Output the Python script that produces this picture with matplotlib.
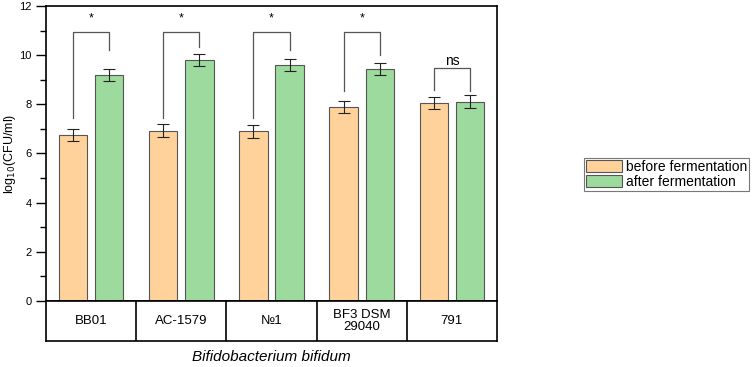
import matplotlib
matplotlib.use("Agg")
import matplotlib.pyplot as plt
import numpy as np
from matplotlib.ticker import MultipleLocator

plt.rcParams['font.family'] = ['Liberation Sans', 'DejaVu Sans']

categories = ["BB01", "AC-1579", "№1", "BF3 DSM\n29040", "791"]
before = [6.74, 6.93, 6.90, 7.88, 8.04]
after = [9.19, 9.79, 9.61, 9.43, 8.11]
before_err = [0.25, 0.25, 0.25, 0.25, 0.25]
after_err = [0.25, 0.25, 0.25, 0.25, 0.25]
sig_labels = ["*", "*", "*", "*", "ns"]
bracket_top = [10.93, 10.93, 10.93, 10.93, 9.46]
bracket_left = [7.44, 7.44, 7.44, 8.54, 8.58]
bracket_right = [10.2, 10.35, 10.2, 10.0, 8.56]
series_names = ["before fermentation", "after fermentation"]

c_before = "#FFD29C"
c_after = "#9DDA9D"
edge = "#555555"

fig = plt.figure(figsize=(7.56, 3.67), dpi=100)
ax = fig.add_axes([0.0608, 0.1798, 0.5966, 0.8039])
tax = fig.add_axes([0.0608, 0.0708, 0.5966, 0.1090], sharex=ax)

x = np.arange(len(categories))
off = 0.2
w = 0.315
b1 = ax.bar(x - off, before, w, color=c_before, edgecolor=edge, linewidth=0.8,
            label=series_names[0], zorder=2)
b2 = ax.bar(x + off, after, w, color=c_after, edgecolor=edge, linewidth=0.8,
            label=series_names[1], zorder=2)
ax.errorbar(x - off, before, yerr=before_err, fmt='none', ecolor='#222222',
            elinewidth=0.8, capsize=4, capthick=0.8, zorder=3)
ax.errorbar(x + off, after, yerr=after_err, fmt='none', ecolor='#222222',
            elinewidth=0.8, capsize=4, capthick=0.8, zorder=3)

for i in range(len(categories)):
    xl, xr = x[i] - off, x[i] + off
    ax.plot([xl, xl, xr, xr], [bracket_left[i], bracket_top[i], bracket_top[i], bracket_right[i]],
            color='#555555', linewidth=0.9, zorder=3)
    if sig_labels[i] == "*":
        ax.text(x[i], bracket_top[i] + 0.3, "*", ha='center', va='bottom', fontsize=9)
    else:
        ax.text(x[i], bracket_top[i] + 0.02, sig_labels[i], ha='center', va='bottom', fontsize=10)

ax.set_xlim(-0.5, len(categories) - 0.5)
ax.set_ylim(0, 12)
ax.yaxis.set_major_locator(MultipleLocator(2))
ax.yaxis.set_minor_locator(MultipleLocator(1))
ax.tick_params(axis='y', which='major', length=7, width=1, labelsize=8, direction='out')
ax.tick_params(axis='y', which='minor', length=4, width=1, direction='out')
ax.tick_params(axis='x', which='both', bottom=False, labelbottom=False)
for s in ax.spines.values():
    s.set_linewidth(1.2)
ax.set_ylabel(r"log$_{10}$(CFU/ml)", fontsize=9)
ax.yaxis.set_label_coords(-0.062, 0.5)

tax.set_ylim(0, 1)
tax.set_yticks([])
tax.tick_params(axis='x', which='both', bottom=False, labelbottom=False)
for s in tax.spines.values():
    s.set_linewidth(1.2)
for i in range(1, len(categories)):
    tax.axvline(i - 0.5, color='black', linewidth=1.2)
for i, c in enumerate(categories):
    tax.text(x[i], 0.5, c, ha='center', va='center', fontsize=9.5, linespacing=1.1)

fig.text(0.3591, 0.027, "Bifidobacterium bifidum", ha='center', va='center',
         fontsize=11, style='italic')

leg = fig.legend(handles=[b1, b2], labels=series_names, loc='center left',
                 bbox_to_anchor=(0.772, 0.525), fontsize=10, frameon=True, fancybox=False,
                 handlelength=2.6, handleheight=1.0, handletextpad=0.3, borderpad=0.15,
                 labelspacing=0.1, borderaxespad=0)
leg.get_frame().set_edgecolor('#555555')
leg.get_frame().set_linewidth(0.8)

fig.savefig("out.png", dpi=100)
